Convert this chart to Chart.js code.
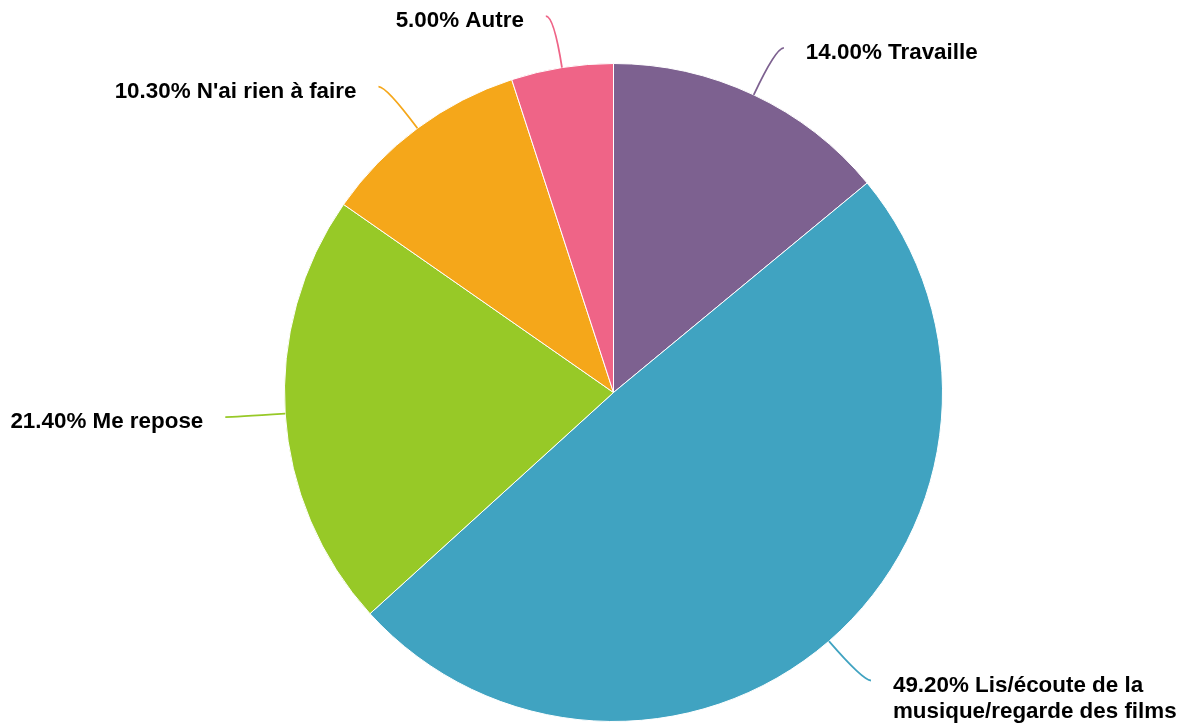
<!DOCTYPE html>
<html>
<head>
<meta charset="utf-8">
<script src="https://cdn.jsdelivr.net/npm/chart.js@4/dist/chart.umd.min.js"></script>
<style>
  html, body { margin: 0; padding: 0; background: #fff; }
  #wrap { width: 1185px; height: 727px; position: relative; }
</style>
</head>
<body>
<div id="wrap"><canvas id="pieChart"></canvas></div>
<script>
var labels = ['Travaille', 'Lis/écoute de la musique/regarde des films', 'Me repose', "N'ai rien à faire", 'Autre'];
var labelLines = [['14.00% Travaille'], ['49.20% Lis/écoute de la', 'musique/regarde des films'], ['21.40% Me repose'], ["10.30% N'ai rien à faire"], ['5.00% Autre']];
var values = [14.0, 49.2, 21.4, 10.3, 5.0];
var colors = ['#7d6190', '#40a3c1', '#97c927', '#f5a71a', '#ef6487'];

// leader lines + outside labels
var outsideLabels = {
    id: 'outsideLabels',
    afterDatasetsDraw: function(chart) {
        var ctx = chart.ctx;
        var meta = chart.getDatasetMeta(0);
        ctx.save();
        ctx.font = 'bold 22.4px "Liberation Sans", Arial, sans-serif';
        ctx.textBaseline = 'middle';
        meta.data.forEach(function(arc, i) {
            var mid = (arc.startAngle + arc.endAngle) / 2;
            var r = arc.outerRadius;
            var cos = Math.cos(mid), sin = Math.sin(mid);
            var dir = cos >= 0 ? 1 : -1;
            var x0 = arc.x + r * cos, y0 = arc.y + r * sin;
            var x1 = arc.x + (r + 52) * cos, y1 = arc.y + (r + 52) * sin;
            var x2 = x1 + dir * 8, y2 = y1;

            ctx.strokeStyle = colors[i];
            ctx.lineWidth = 1.8;
            ctx.beginPath();
            ctx.moveTo(x0, y0);
            ctx.quadraticCurveTo(x1, y1, x2, y2);
            ctx.stroke();

            ctx.fillStyle = '#000';
            ctx.textAlign = dir > 0 ? 'left' : 'right';
            labelLines[i].forEach(function(line, j) {
                ctx.fillText(line, x2 + dir * 22, y2 + 5 + j * 26);
            });
        });
        ctx.restore();
    }
};

new Chart(document.getElementById('pieChart'), {
    type: 'pie',
    data: {
        labels: labels,
        datasets: [{
            data: values,
            backgroundColor: colors,
            borderColor: '#ffffff',
            borderWidth: 1
        }]
    },
    options: {
        responsive: true,
        maintainAspectRatio: false,
        animation: false,
        layout: {
            padding: { top: 63, bottom: 5, left: 42, right: 0 }
        },
        plugins: {
            legend: { display: false },
            tooltip: { enabled: false }
        }
    },
    plugins: [outsideLabels]
});
</script>
</body>
</html>
